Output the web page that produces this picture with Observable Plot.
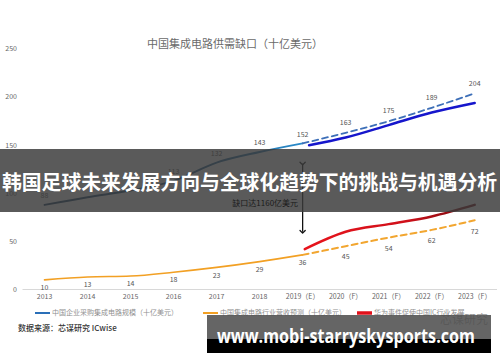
<!DOCTYPE html>
<html><head><meta charset="utf-8">
<script src="https://cdn.jsdelivr.net/npm/d3@7"></script>
<script src="https://cdn.jsdelivr.net/npm/@observablehq/plot@0.6"></script>
<style>
html,body{margin:0;padding:0;background:#fff;}
#wrap{width:500px;height:362px;position:relative;overflow:hidden;}
</style></head>
<body><div id="wrap"></div>
<script>
const years = [2013,2014,2015,2016,2017,2018,2019,2020,2021,2022,2023];
const yearLabels = ["2013","2014","2015","2016","2017","2018","2019（E）","2020（F）","2021（F）","2022（F）","2023（F）"];
const yTicks = [0,50,100,150,200,250];

// 中国企业采购集成电路规模（历史）
const purchaseYears = [2013,2014,2015,2016,2017,2018,2019];
const purchase = [88,96,103,113,132,143,152];
const purchaseLabelYears = [2013,2016,2017,2018,2019];
const purchaseLabels = [88,113,132,143,152];
// 采购规模预测（虚线）
const purchaseFcYears = [2019,2020,2021,2022,2023];
const purchaseFc = [152,163,175,189,204];
// 采购规模趋势（实线）
const purchaseTrendYears = [2019.15,2020,2021,2022,2023];
const purchaseTrend = [150,158,171,184,194];
// 中国集成电路行业营收
const revenueYears = [2013,2014,2015,2016,2017,2018,2019];
const revenue = [10,13,14,18,23,29,36];
const revenueFcYears = [2019,2020,2021,2022,2023];
const revenueFc = [36,45,54,62,72];
// 华为事件
const huaweiYears = [2019.05,2020,2021,2022,2023];
const huawei = [42,60,68,76,88];
// 缺口
const gapYear = 2019;
const gapTop = 131;
const gapBottom = 60;
const gapTextValue = 89;
const gapText = "缺口达1160亿美元";

const title = "中国集成电路供需缺口（十亿美元）";
const legendNames = ["中国企业采购集成电路规模（十亿美元）","中国集成电路行业营收预测（十亿美元）","华为事件促使中国IC行业发展"];
const source = "数据来源：芯谋研究 ICwise";
const bannerText = "韩国足球未来发展方向与全球化趋势下的挑战与机遇分析";
const urlText = "www.mobi-starryskysports.com";

const rows = (xs, ys) => xs.map((x,i)=>({x, y: ys[i]}));
const font = "'Noto Sans CJK SC','Noto Sans',sans-serif";

const chart = Plot.plot({
  width: 500, height: 362,
  marginTop: 39, marginBottom: 73, marginLeft: 22.5, marginRight: 3,
  style: {fontSize: "7px", fontFamily: font, color: "#666", background: "#fff"},
  x: {domain: [2012.5, 2023.53], ticks: years, tickFormat: d => yearLabels[years.indexOf(d)], tickSize: 0, tickPadding: 5, label: null},
  y: {domain: [0, 260], ticks: yTicks, tickSize: 0, tickPadding: 6, label: null},
  marks: [
    Plot.ruleY([0], {stroke: "#d8d8d8"}),
    Plot.line(rows(revenueYears, revenue), {x:"x", y:"y", stroke:"#f2a024", strokeWidth:1.6, curve:"monotone-x"}),
    Plot.line(rows(revenueFcYears, revenueFc), {x:"x", y:"y", stroke:"#f2a630", strokeWidth:2, strokeDasharray:"6,4", curve:"monotone-x"}),
    Plot.line(rows(huaweiYears, huawei), {x:"x", y:"y", stroke:"url(#redGrad)", strokeWidth:2.5, curve:"monotone-x"}),
    Plot.line(rows(purchaseYears, purchase), {x:"x", y:"y", stroke:"url(#blueGrad)", strokeWidth:2, curve:"monotone-x"}),
    Plot.line(rows(purchaseFcYears, purchaseFc), {x:"x", y:"y", stroke:"#3d6fb8", strokeWidth:1.8, strokeDasharray:"6,4", curve:"monotone-x"}),
    Plot.line(rows(purchaseTrendYears, purchaseTrend), {x:"x", y:"y", stroke:"#1616cc", strokeWidth:2.5, curve:"monotone-x"}),
    Plot.link([{x: gapYear, y1: gapTop, y2: gapBottom}], {x1:"x", x2:"x", y1:"y1", y2:"y2", stroke:"#111", strokeWidth:1.3, marker:"arrow"}),
    Plot.text(rows(purchaseLabelYears, purchaseLabels), {x:"x", y:"y", text:"y", dy:-9, fill:"#555"}),
    Plot.text(rows(purchaseFcYears.slice(1), purchaseFc.slice(1)), {x:"x", y:"y", text:"y", dy:-10, fill:"#555"}),
    Plot.text(rows(revenueYears, revenue), {x:"x", y:"y", text:"y", dy:8, fill:"#555"}),
    Plot.text(rows(revenueFcYears.slice(1), revenueFc.slice(1)), {x:"x", y:"y", text:"y", dy:11, fill:"#555"})
  ]
});

const svg = d3.select(chart);
const xs = chart.scale("x");
const ys = chart.scale("y");
const defs = svg.insert("defs", ":first-child");
const bg = defs.append("linearGradient").attr("id","blueGrad").attr("gradientUnits","userSpaceOnUse")
  .attr("x1", xs.apply(2013)).attr("x2", xs.apply(2019)).attr("y1",0).attr("y2",0);
bg.append("stop").attr("offset","0").attr("stop-color","#163a5e");
bg.append("stop").attr("offset","0.6").attr("stop-color","#1f5a88");
bg.append("stop").attr("offset","1").attr("stop-color","#2a8ccc");
const rg = defs.append("linearGradient").attr("id","redGrad").attr("gradientUnits","userSpaceOnUse")
  .attr("x1", xs.apply(2019)).attr("x2", xs.apply(2023)).attr("y1",0).attr("y2",0);
rg.append("stop").attr("offset","0").attr("stop-color","#e8141c");
rg.append("stop").attr("offset","0.6").attr("stop-color","#d0101a");
rg.append("stop").attr("offset","1").attr("stop-color","#6e0a0e");

const ov = svg.append("g").attr("font-family", font).attr("text-anchor","start");
// title
ov.append("text").attr("x",235).attr("y",45).attr("text-anchor","middle").attr("dominant-baseline","middle")
  .attr("font-size",11).attr("fill","#6a6a6a").text(title);
// legend
const legColors = ["#2a6fb8","#f2a024","#e0101a"];
const legX = [35, 203, 357];
legendNames.forEach((n,i)=>{
  ov.append("line").attr("x1",legX[i]).attr("x2",legX[i]+15).attr("y1",313).attr("y2",313)
    .attr("stroke",legColors[i]).attr("stroke-width", i===2?3.5:2);
  ov.append("text").attr("x",legX[i]+17).attr("y",313).attr("dominant-baseline","middle")
    .attr("font-size",7).attr("fill","#909090").text(n);
});
// source
ov.append("text").attr("x",18).attr("y",329).attr("dominant-baseline","middle")
  .attr("font-size",8).attr("font-weight",500).attr("fill","#333").text(source);
// watermark
ov.append("text").attr("x",440).attr("y",321).attr("dominant-baseline","middle")
  .attr("font-size",12).attr("fill","#999").text("芯谋研究");
// banner 1
ov.append("rect").attr("x",0).attr("y",149).attr("width",500).attr("height",63).attr("fill","rgba(58,58,58,0.84)");
ov.append("text").attr("x",2).attr("y",185).attr("dominant-baseline","middle")
  .attr("font-size",20).attr("font-weight",700).attr("fill","#fff")
  .attr("textLength",495).attr("lengthAdjust","spacingAndGlyphs").text(bannerText);
// gap annotation (drawn over the band, as in the reference)
ov.append("text").attr("x", xs.apply(gapYear) - 4).attr("y", ys.apply(gapTextValue))
  .attr("text-anchor","end").attr("dominant-baseline","middle")
  .attr("font-size",8).attr("fill","#1a1a1a").text(gapText);
// banner 2
ov.append("rect").attr("x",207).attr("y",315).attr("width",284).attr("height",24).attr("fill","rgba(80,80,80,0.88)");
ov.append("rect").attr("x",207).attr("y",339).attr("width",284).attr("height",14).attr("fill","#000");
ov.append("text").attr("x",217).attr("y",343)
  .attr("font-family","'Open Sans','DejaVu Sans',sans-serif")
  .attr("font-size",20).attr("font-weight",700).attr("fill","#fff")
  .attr("textLength",258).attr("lengthAdjust","spacingAndGlyphs").text(urlText);

document.getElementById("wrap").appendChild(chart);
</script></body></html>
